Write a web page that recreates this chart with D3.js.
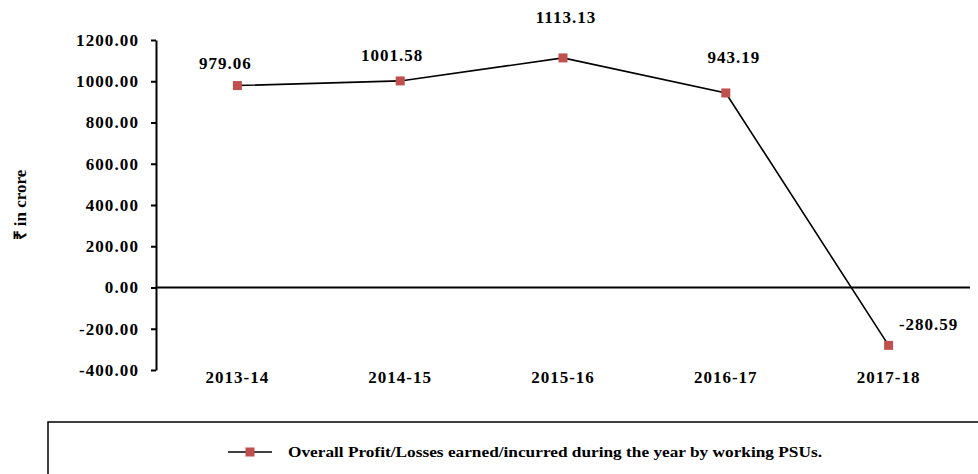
<!DOCTYPE html>
<html><head><meta charset="utf-8">
<script src="https://cdn.jsdelivr.net/npm/d3@7/dist/d3.min.js"></script>
<style>
html,body{margin:0;padding:0;background:#fff;}
svg{display:block;font-family:"Liberation Serif","Times New Roman",serif;font-weight:bold;}
</style></head>
<body><svg id="c" width="978" height="474"></svg>
<script>
const categories = ["2013-14","2014-15","2015-16","2016-17","2017-18"];
const values = [979.06, 1001.58, 1113.13, 943.19, -280.59];
const yTicks = [1200, 1000, 800, 600, 400, 200, 0, -200, -400];
const seriesName = "Overall Profit/Losses earned/incurred during the year by working PSUs.";
const yTitle = "₹ in crore";
// label placement offsets (dx, dy) relative to each point
const labelDx = [-12, -8, 3, 8, 40];
const labelDy = [-23, -26, -41, -36, -21];

const fmt = v => d3.format(".2f")(v).replace("\u2212","-");
const svg = d3.select("#c");
const x = d3.scaleBand().domain(categories).range([156, 970]);
const y = d3.scaleLinear().domain([-400, 1200]).range([370, 40]);
const cx = d => x(d) + x.bandwidth()/2;

// y axis
const yAxis = svg.append("g").attr("transform","translate(156,0)")
  .call(d3.axisLeft(y).tickValues(yTicks).tickSize(5).tickSizeOuter(0).tickFormat(fmt));
yAxis.attr("font-family",null).attr("font-size",null);
yAxis.select(".domain").attr("stroke","#000").attr("stroke-width",2);
yAxis.selectAll(".tick line").attr("stroke","#000").attr("stroke-width",2);
yAxis.selectAll(".tick text").attr("font-size",17).attr("font-weight","bold")
  .attr("letter-spacing",1.1).attr("x",-17).attr("fill","#000");

// zero line
svg.append("line").attr("x1",156).attr("x2",970).attr("y1",y(0)).attr("y2",y(0))
  .attr("stroke","#000").attr("stroke-width",2);

// x labels
svg.append("g").selectAll("text").data(categories).join("text")
  .attr("x", d => cx(d)).attr("y", 383).attr("text-anchor","middle")
  .attr("font-size",17).attr("letter-spacing",1).text(d => d);

// y title
svg.append("text").attr("transform","translate(26,205) rotate(-90)")
  .attr("text-anchor","middle").attr("font-size",17).text(yTitle);

// line
const pts = categories.map((c,i)=>({c, v: values[i], i}));
svg.append("path").datum(pts)
  .attr("d", d3.line().x(d=>cx(d.c)).y(d=>y(d.v)))
  .attr("fill","none").attr("stroke","#000").attr("stroke-width",1.6);

svg.append("g").selectAll("rect").data(pts).join("rect")
  .attr("x", d=>cx(d.c)-4.5).attr("y", d=>y(d.v)-4.5).attr("width",9).attr("height",9)
  .attr("fill","#C0504D");

svg.append("g").selectAll("text").data(pts).join("text")
  .attr("x", d=>cx(d.c)+labelDx[d.i]).attr("y", d=>y(d.v)+labelDy[d.i]+6)
  .attr("text-anchor","middle").attr("font-size",17).attr("letter-spacing",1)
  .text(d=>fmt(d.v));

// legend
svg.append("rect").attr("x",48).attr("y",422).attr("width",940).attr("height",60)
  .attr("fill","none").attr("stroke","#000").attr("stroke-width",1.5);
svg.append("line").attr("x1",228).attr("x2",272).attr("y1",452).attr("y2",452)
  .attr("stroke","#000").attr("stroke-width",1.6);
svg.append("rect").attr("x",250-4.5).attr("y",452-4.5).attr("width",9).attr("height",9).attr("fill","#C0504D");
svg.append("text").attr("x",288).attr("y",457).attr("font-size",14)
  .attr("textLength",534).attr("lengthAdjust","spacingAndGlyphs").text(seriesName);
</script></body></html>
